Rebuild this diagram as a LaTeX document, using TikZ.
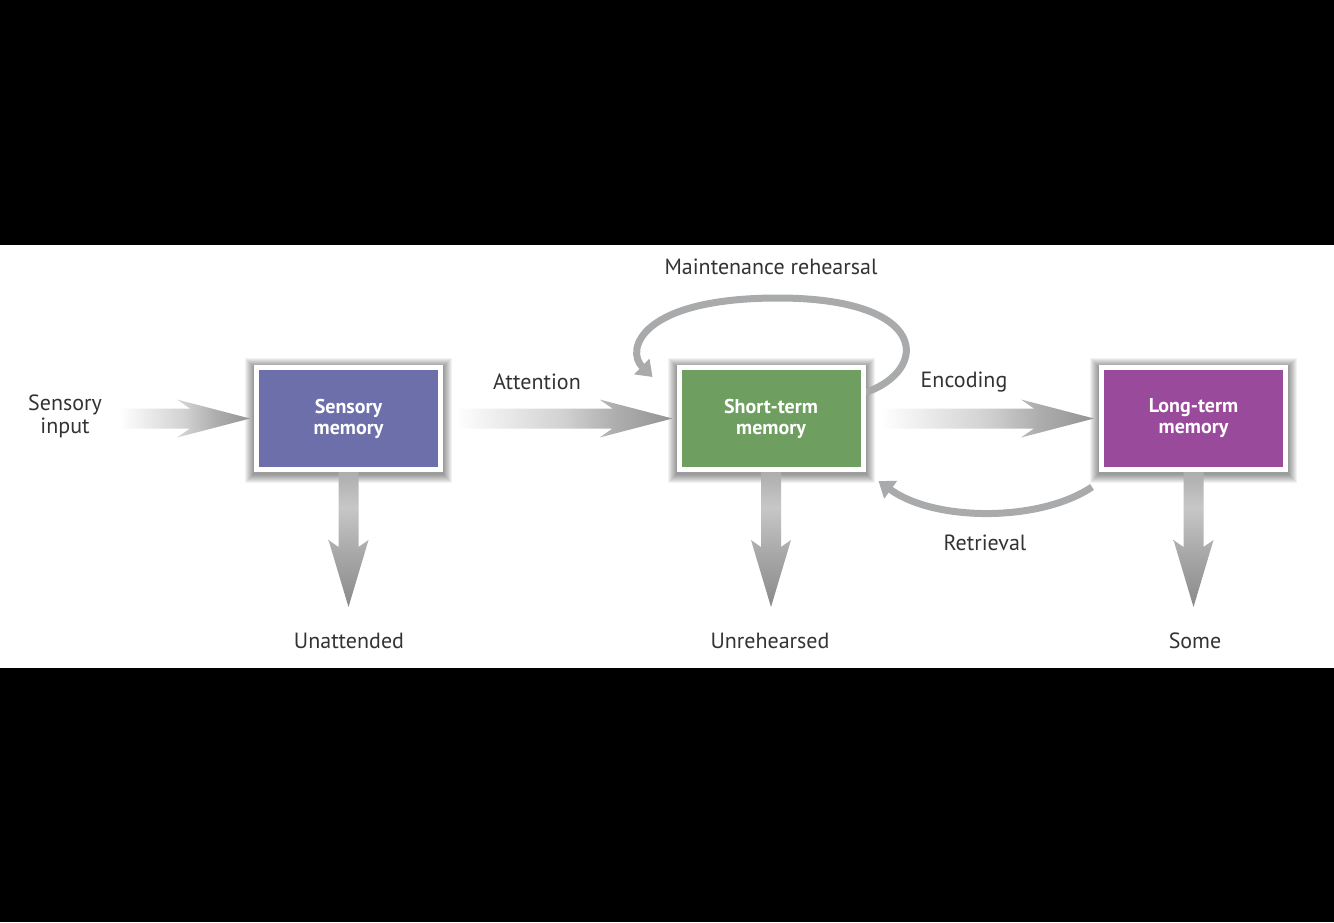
\documentclass[tikz,border=0pt]{standalone}
\usepackage{fontspec}
\setmainfont{PT Sans}
\usetikzlibrary{calc,arrows.meta}
\definecolor{txt}{HTML}{333333}
\definecolor{sensc}{HTML}{6D6FAB}
\definecolor{stmc}{HTML}{6E9E60}
\definecolor{ltmc}{HTML}{9A4A9B}
\definecolor{loopc}{HTML}{A9AAAC}
\pgfdeclarelayer{band}
\pgfdeclarelayer{glow}
\pgfdeclarelayer{conn}
\pgfsetlayers{band,glow,conn,main}
\pgfdeclarehorizontalshading{fatarrowshade}{100bp}{color(0bp)=(white); color(25bp)=(white); color(50bp)=(black!18); color(62bp)=(black!32); color(75bp)=(black!42); color(100bp)=(black!42)}
\pgfdeclareverticalshading{downarrowshade}{100bp}{color(0bp)=(black!46); color(25bp)=(black!46); color(45bp)=(black!34); color(62bp)=(black!22); color(75bp)=(black!32); color(100bp)=(black!32)}
\newcommand{\memharrow}[2]{%
  \path[shading=fatarrowshade] let \p1=#1, \p2=#2 in
    (\x1,\y2+10pt) -- (\x2-60pt,\y2+10pt) -- (\x2-73pt,\y2+19pt) -- (\x2,\y2)
    -- (\x2-73pt,\y2-19pt) -- (\x2-60pt,\y2-10pt) -- (\x1,\y2-10pt) -- cycle;}
\newcommand{\memvarrow}[2]{%
  \path[shading=downarrowshade] let \p1=#1, \p2=#2 in
    (\x2-10pt,\y1) -- (\x2-10pt,\y2+60pt) -- (\x2-20pt,\y2+67pt) -- (\x2,\y2)
    -- (\x2+20pt,\y2+67pt) -- (\x2+10pt,\y2+60pt) -- (\x2+10pt,\y1) -- cycle;}
\tikzset{
  membox/.style={draw=white, line width=5pt, minimum width=184pt, minimum height=102pt,
    inner sep=0pt, text=white, font=\bfseries\fontsize{20}{21}\selectfont, align=center},
  lbl/.style={text=txt, font=\fontsize{22}{23}\selectfont, align=center, inner sep=0pt},
  loopline/.style={draw=loopc, line width=7pt, -{Triangle[length=15pt,width=21pt]}}
}
\begin{document}
\begin{tikzpicture}[x=1pt,y=-1pt]
\useasboundingbox (0,0) rectangle (1334,922);
\begin{pgfonlayer}{band}
  \fill[black] (0,0) rectangle (1334,922);
  \fill[white] (0,245) rectangle (1334,668);
\end{pgfonlayer}

% boxes
\node[membox, fill=sensc] (sm) at (348.5,418.5) {Sensory\\memory};
\node[membox, fill=stmc] (stm) at (771,418.5) {Short-term\\memory};
\node[membox, fill=ltmc] (ltm) at (1193.5,418.5) {Long-term\\memory};

% labels
\node[lbl] (in) at (65,416) {Sensory\\input};
\node[lbl] (att) at (537,382) {Attention};
\node[lbl] (mr) at (771,267) {Maintenance rehearsal};
\node[lbl] (enc) at (964,382) {Encoding};
\node[lbl] (ret) at (985,543) {Retrieval};
\node[lbl] (un1) at (349,641) {Unattended};
\node[lbl] (un2) at (770,641) {Unrehearsed};
\node[lbl] (un3) at (1195,641) {Some};

% named free ends
\coordinate (smend) at ($(sm.south)+(0,135)$);
\coordinate (stmend) at ($(stm.south)+(0,135)$);
\coordinate (ltmend) at ($(ltm.south)+(0,135)$);
\coordinate (mrstart) at ($(stm.east)+(0,-26)$);
\coordinate (mrend) at ($(stm.north west)+(-24,12)$);
\coordinate (retstart) at ($(ltm.south west)+(-7,15)$);
\coordinate (retend) at ($(stm.south east)+(13,9)$);

% glow shadows
\begin{pgfonlayer}{glow}
  \foreach \n in {sm,stm,ltm}{
    \foreach \i in {1,...,9}{
      \fill[black,opacity=0.05] ($(\n.north west)+(-\i,-\i+2)$) rectangle ($(\n.south east)+(\i,\i+2)$);
    }
  }
\end{pgfonlayer}

% connectors
\begin{pgfonlayer}{conn}
  \memharrow{($(in.east)+(17,0)$)}{($(sm.west)+(-4,0)$)}
  \memharrow{($(sm.east)+(12,0)$)}{($(stm.west)+(-4,0)$)}
  \memharrow{($(stm.east)+(15,0)$)}{($(ltm.west)+(-5,0)$)}
  \memvarrow{(sm.south)}{(smend)}
  \memvarrow{(stm.south)}{(stmend)}
  \memvarrow{(ltm.south)}{(ltmend)}
  \draw[loopline] (mrstart) .. controls (930,370) and (930,298) .. (778,298)
        .. controls (640,298) and (625,350) .. (mrend);
  \draw[loopline] (retstart) .. controls (1040,522) and (935,522) .. (retend);
\end{pgfonlayer}
\end{tikzpicture}
\end{document}
